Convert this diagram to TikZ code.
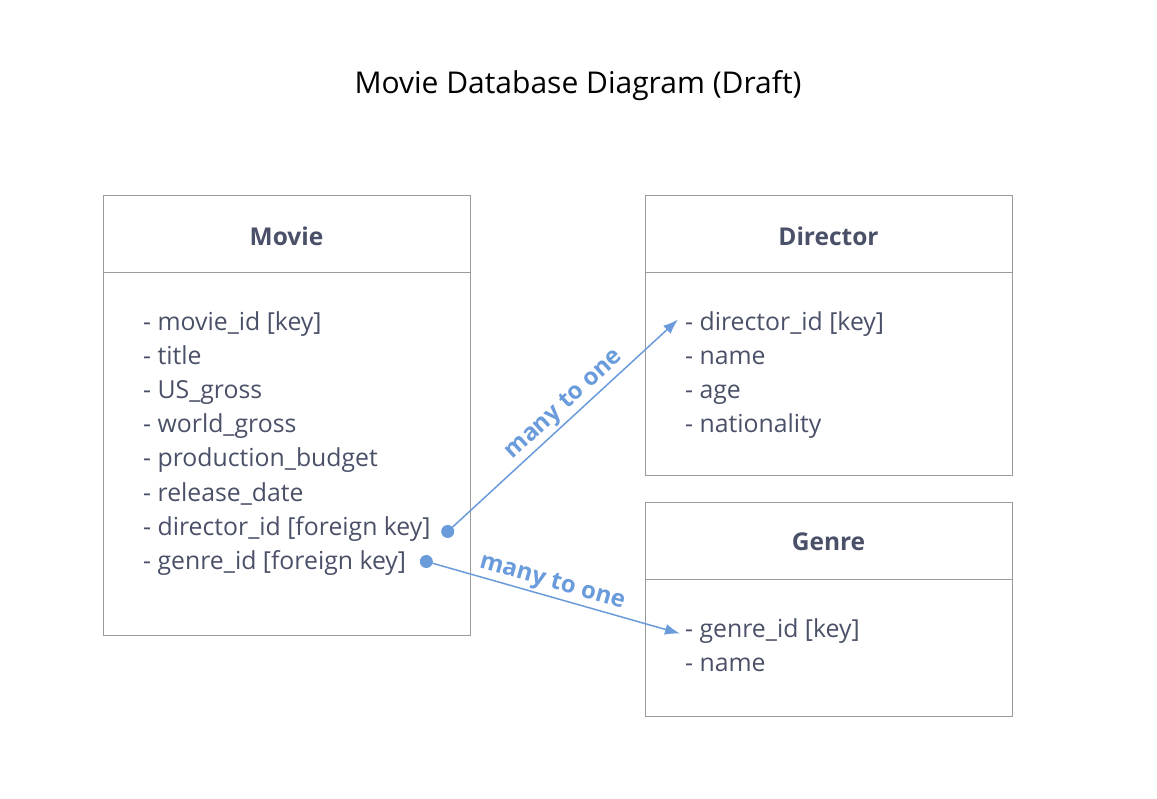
\documentclass[tikz,border=0pt]{standalone}
\usepackage{fontspec}
\setmainfont{Open Sans}
\usetikzlibrary{arrows.meta}
\definecolor{txtgray}{HTML}{4A5068}
\definecolor{fkblue}{HTML}{6A9BDB}
\definecolor{framegray}{HTML}{9B9B9B}
\tikzset{tbl/.style={draw=framegray, line width=1pt}}
\tikzset{head/.style={font=\fontsize{24.5}{29}\selectfont\bfseries, text=txtgray}}
\tikzset{fld/.style={font=\fontsize{24.8}{29}\selectfont, text=txtgray, anchor=base west, inner sep=0pt}}
\tikzset{rel/.style={draw=fkblue, line width=1.5pt, -{Latex[length=15pt, width=11pt]}}}
\tikzset{rellabel/.style={font=\fontsize{24}{28}\selectfont\bfseries, text=fkblue, sloped, above, inner sep=2pt}}
\newcommand{\fkdot}[1]{\fill[fkblue] (#1) circle (6.5pt);}

\begin{document}
\begin{tikzpicture}[x=1pt, y=1pt]
\useasboundingbox (0,0) rectangle (1157,-799);
\node[font=\fontsize{30}{36}\selectfont] (title) at (578,-86) {Movie Database Diagram (Draft)};

% Movie table
\draw[tbl] (103,-196) rectangle (470,-635);
\draw[tbl] (103,-273) -- (470,-273);
\node[head] (movie) at (286.5,-236) {Movie};
\node[fld] (mid) at (143,-331) {- movie\_id [key]};
\node[fld] (mtitle) at (143,-365) {- title};
\node[fld] (mus) at (143,-399) {- US\_gross};
\node[fld] (mworld) at (143,-433) {- world\_gross};
\node[fld] (mbudget) at (143,-467) {- production\_budget};
\node[fld] (mrelease) at (143,-501) {- release\_date};
\node[fld] (mdir) at (143,-535) {- director\_id [foreign key]};
\node[fld] (mgenre) at (143,-569) {- genre\_id [foreign key]};

% Director table
\draw[tbl] (645,-196) rectangle (1012,-475);
\draw[tbl] (645,-273) -- (1012,-273);
\node[head] (director) at (828.5,-236) {Director};
\node[fld] (did) at (685,-331) {- director\_id [key]};
\node[fld] (dname) at (685,-365) {- name};
\node[fld] (dage) at (685,-399) {- age};
\node[fld] (dnat) at (685,-433) {- nationality};

% Genre table
\draw[tbl] (645,-502) rectangle (1012,-716);
\draw[tbl] (645,-579) -- (1012,-579);
\node[head] (genre) at (828.5,-542) {Genre};
\node[fld] (gid) at (685,-637) {- genre\_id [key]};
\node[fld] (gname) at (685,-671) {- name};

% relations
\coordinate (dirstart) at ([xshift=17pt, yshift=-3pt]mdir.east);
\coordinate (genstart) at ([xshift=20pt, yshift=1pt]mgenre.east);
\fkdot{dirstart}
\fkdot{genstart}
\draw[rel] (dirstart) -- ([xshift=-7pt, yshift=5pt]did.west) node[rellabel, midway, xshift=15pt] {many to one};
\draw[rel] (genstart) -- ([xshift=-5pt, yshift=-3pt]gid.west) node[rellabel, midway, xshift=-5pt] {many to one};
\end{tikzpicture}
\end{document}
